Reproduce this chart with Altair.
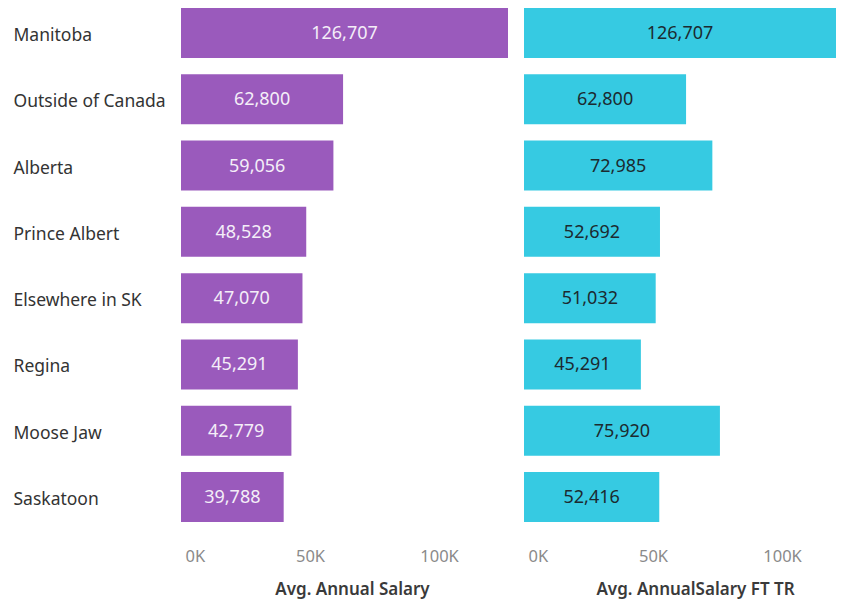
import altair as alt
import pandas as pd

regions = ["Manitoba", "Outside of Canada", "Alberta", "Prince Albert",
           "Elsewhere in SK", "Regina", "Moose Jaw", "Saskatoon"]
annual_salary = [126707, 62800, 59056, 48528, 47070, 45291, 42779, 39788]
annual_salary_ft_tr = [126707, 62800, 72985, 52692, 51032, 45291, 75920, 52416]
tick_values = [0, 50000, 100000]

df = pd.DataFrame({"Region": regions, "Annual": annual_salary, "FTTR": annual_salary_ft_tr})

FONT = "Noto Sans"
PURPLE = "#9A5ABC"
CYAN = "#36CAE2"
H = 514
LEFT_MAX = 126707
RIGHT_MAX = 120900

yscale = alt.Scale(paddingInner=16.3 / 66.3, paddingOuter=0)


def xaxis(title):
    return alt.Axis(values=tick_values, labelExpr="format(datum.value/1000,'d')+'K'",
                    grid=False, ticks=False, tickSize=0, domain=False,
                    labelFontSize=16.5, labelColor="#8a8a8a", labelFont=FONT,
                    labelPadding=26, labelFlush=True, labelFlushOffset=-4,
                    title=title, titleFontSize=17, titleFont=FONT, titleFontWeight=600,
                    titleColor="#3a3a3a", titlePadding=17, titleX=171, titleAlign="center")


y_left = alt.Y("Region:N", sort=regions, scale=yscale,
               axis=alt.Axis(title=None, labelAlign="left", labelPadding=168, ticks=False,
                             domain=False, labelFontSize=17.5, labelColor="#333333",
                             labelFont=FONT, labelLimit=200, labelOffset=3))
y_right = alt.Y("Region:N", sort=regions, scale=yscale, axis=None)

left_bars = alt.Chart(df).mark_bar(color=PURPLE).encode(
    x=alt.X("Annual:Q", scale=alt.Scale(domain=[0, LEFT_MAX], nice=False),
            axis=xaxis("Avg. Annual Salary")),
    y=y_left,
)
left_text = alt.Chart(df).transform_calculate(mid="datum.Annual/2").mark_text(
    color="#f4eef8", fontSize=18, font=FONT, dy=1
).encode(
    x=alt.X("mid:Q", axis=xaxis("Avg. Annual Salary")),
    y=y_left,
    text=alt.Text("Annual:Q", format=","),
)
left = alt.layer(left_bars, left_text).properties(width=327, height=H)

right_bars = alt.Chart(df).mark_bar(color=CYAN, clip=True).encode(
    x=alt.X("FTTR:Q", scale=alt.Scale(domain=[0, RIGHT_MAX], nice=False),
            axis=xaxis("Avg. AnnualSalary FT TR")),
    y=y_right,
)
right_text = alt.Chart(df).transform_calculate(
    mid=f"min(datum.FTTR, {RIGHT_MAX})/2"
).mark_text(color="#1c2a30", fontSize=18, font=FONT, dy=1).encode(
    x=alt.X("mid:Q", axis=xaxis("Avg. AnnualSalary FT TR")),
    y=y_right,
    text=alt.Text("FTTR:Q", format=","),
)
right = alt.layer(right_bars, right_text).properties(width=312, height=H)

chart = alt.hconcat(left, right, spacing=16, padding={"left": 5, "top": 0, "right": 0, "bottom": 6}
                    ).configure(background="white").configure_view(strokeWidth=0, stroke="transparent")

chart.save("out.html", embed_options={"renderer": "svg", "actions": False})
